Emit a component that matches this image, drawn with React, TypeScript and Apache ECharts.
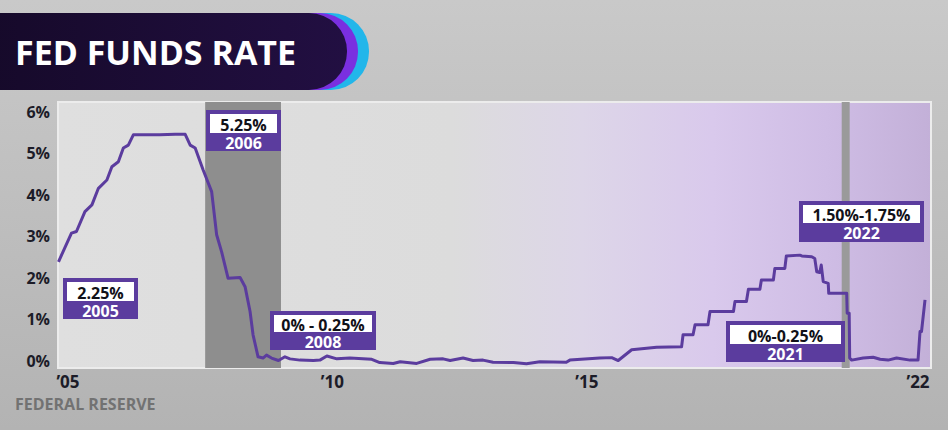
import React, { useEffect, useRef } from "react";
import * as echarts from "echarts";

// Fed funds rate (x = year position on the chart's axis, y = %)
const dates = [
  2005.01, 2005.27, 2005.37, 2005.54, 2005.68, 2005.81, 2005.98, 2006.08, 2006.21, 2006.31,
  2006.41, 2006.51, 2007.04, 2007.35, 2007.55, 2007.65, 2007.75, 2007.91, 2008.08, 2008.18,
  2008.28, 2008.41, 2008.65, 2008.75, 2008.85, 2008.91, 2009.01, 2009.11, 2009.18, 2009.28,
  2009.42, 2009.55, 2009.65, 2009.85, 2010.12, 2010.25, 2010.39, 2010.59, 2010.85, 2011.29,
  2011.45, 2011.72, 2011.86, 2012.19, 2012.46, 2012.72, 2012.86, 2013.12, 2013.32, 2013.52,
  2013.72, 2014.13, 2014.39, 2014.66, 2015.19, 2015.26, 2015.86, 2016.10, 2016.23, 2016.50,
  2016.60, 2017.00, 2017.50, 2017.53, 2017.73, 2017.77, 2018.03, 2018.07, 2018.54, 2018.57,
  2018.80, 2018.84, 2019.07, 2019.10, 2019.34, 2019.37, 2019.57, 2019.60, 2019.87, 2019.91,
  2020.11, 2020.17, 2020.21, 2020.27, 2020.30, 2020.34, 2020.44, 2020.45, 2020.81, 2020.82,
  2020.86, 2020.87, 2020.91, 2021.14, 2021.34, 2021.48, 2021.64, 2021.81, 2022.08, 2022.24,
  2022.28, 2022.31, 2022.38,
];
const rates = [
  2.39, 3.08, 3.12, 3.60, 3.76, 4.16, 4.36, 4.68, 4.80, 5.13,
  5.20, 5.45, 5.45, 5.46, 5.46, 5.20, 5.13, 4.60, 4.08, 3.04,
  2.63, 1.99, 2.01, 1.79, 1.19, 0.63, 0.10, 0.07, 0.14, 0.07,
  0.01, 0.10, 0.05, 0.02, 0.01, 0.02, 0.12, 0.05, 0.07, 0.04,
  -0.04, -0.06, -0.02, -0.06, 0.04, 0.05, 0.01, 0.07, 0.01, 0.02,
  -0.03, -0.04, -0.07, -0.02, -0.03, 0.02, 0.07, 0.08, 0.01, 0.27,
  0.28, 0.33, 0.34, 0.63, 0.63, 0.87, 0.87, 1.19, 1.19, 1.43,
  1.43, 1.73, 1.73, 1.95, 1.95, 2.23, 2.23, 2.53, 2.55, 2.53,
  2.51, 2.47, 2.15, 2.13, 2.31, 1.91, 1.87, 1.63, 1.63, 1.15,
  1.15, 0.07, 0.02, 0.07, 0.09, 0.04, 0.02, 0.07, 0.02, 0.02,
  0.71, 0.71, 1.47,
];

// Recessions (shaded bars)
const recessionStarts = [2007.95, 2020.71];
const recessionEnds = [2009.47, 2020.87];

// Axis tick values / labels
const yTicks = [0, 1, 2, 3, 4, 5, 6];
const xTicks = [2005.2, 2010.5, 2015.6, 2022.24];

// Annotation texts
const annotationRates = ["2.25%", "5.25%", "0% - 0.25%", "0%-0.25%", "1.50%-1.75%"];
const annotationYears = ["2005", "2006", "2008", "2021", "2022"];

// Annotation box layout (pixels): x, y, w, h, white-box height
const annotationBoxes = [
  [63, 278, 75, 41, 19],
  [206, 110, 75, 41, 19],
  [270, 311, 106, 39, 17],
  [726, 321, 119, 41, 19],
  [799, 201, 125, 41, 18],
];

const PURPLE = "#5b3c9e";
const FONT = "'Open Sans', 'Noto Sans', sans-serif";

function annotation(i: number) {
  const [x, y, w, h, wh] = annotationBoxes[i];
  const inset = 4;
  const c1 = y + inset + wh / 2 + 1;
  const c2 = y + inset + wh + (h - inset - wh) / 2 + 0.5;
  const lh = c2 - c1;
  return [
    { type: "rect", z: 100, shape: { x, y, width: w, height: h }, style: { fill: PURPLE } },
    {
      type: "rect",
      z: 101,
      shape: { x: x + inset, y: y + inset, width: w - 2 * inset, height: wh },
      style: { fill: "#ffffff" },
    },
    {
      type: "text",
      z: 102,
      x: x + w / 2,
      y: (c1 + c2) / 2,
      style: {
        text: `{v|${annotationRates[i]}}\n{y|${annotationYears[i]}}`,
        textAlign: "center",
        textVerticalAlign: "middle",
        font: `bold 16px ${FONT}`,
        rich: {
          v: {
            fill: "#111118",
            fontSize: 16,
            fontWeight: "bold",
            fontFamily: FONT,
            lineHeight: lh,
            align: "center",
          },
          y: {
            fill: "#ffffff",
            fontSize: 16,
            fontWeight: "bold",
            fontFamily: FONT,
            lineHeight: lh,
            align: "center",
          },
        },
      },
    },
  ];
}

export default function App() {
  const ref = useRef<HTMLDivElement>(null);
  useEffect(() => {
    if (!ref.current) return;
    const chart = echarts.init(ref.current, null, { renderer: "svg" });
    const lineData = dates.map((d, i) => [d, rates[i]]);
    const option: any = {
      animation: false,
      backgroundColor: "#bdbdbd",
      grid: {
        left: 58,
        right: 17,
        top: 102,
        bottom: 62,
        show: true,
        borderColor: "#ececec",
        borderWidth: 2,
        backgroundColor: new echarts.graphic.LinearGradient(0, 0, 1, 0, [
          { offset: 0, color: "#dfdfdf" },
          { offset: 0.45, color: "#dcdcdc" },
          { offset: 0.6, color: "#ddd6e8" },
          { offset: 0.75, color: "#d9c9ec" },
          { offset: 0.88, color: "#cfbde5" },
          { offset: 1, color: "#c3b0d8" },
        ]),
      },
      xAxis: {
        type: "value",
        min: 2005,
        max: 2022.5,
        axisLine: { show: false },
        axisTick: { show: false },
        splitLine: { show: false },
        axisLabel: {
          customValues: xTicks,
          formatter: (v: number) => "\u2019" + String(Math.floor(v)).slice(2),
          color: "#1c1c28",
          fontSize: 17,
          fontWeight: "bold",
          fontFamily: FONT,
          margin: 5,
        },
      },
      yAxis: {
        type: "value",
        min: -0.17,
        max: 6.24,
        axisLine: { show: false },
        axisTick: { show: false },
        splitLine: { show: false },
        axisLabel: {
          customValues: yTicks,
          formatter: (v: number) => `${v}%`,
          color: "#1c1c28",
          fontSize: 16,
          fontWeight: "bold",
          fontFamily: FONT,
          margin: 8,
        },
      },
      series: [
        {
          type: "line",
          data: lineData,
          showSymbol: false,
          symbol: "none",
          clip: false,
          z: 5,
          lineStyle: { color: PURPLE, width: 3, join: "round" },
          markArea: {
            silent: true,
            itemStyle: { color: "#8f8f8f", opacity: 1 },
            data: recessionStarts.map((s, i) => [
              { xAxis: s, itemStyle: { color: i === 0 ? "#8e8e8e" : "#9a9a9a" } },
              { xAxis: recessionEnds[i] },
            ]),
          },
        },
      ],
      graphic: [
        {
          type: "rect",
          z: -100,
          shape: { x: 0, y: 0, width: 948, height: 430 },
          style: {
            fill: new echarts.graphic.LinearGradient(0, 0, 0, 1, [
              { offset: 0, color: "#c9c9c9" },
              { offset: 0.5, color: "#bebebe" },
              { offset: 1, color: "#b3b3b3" },
            ]),
          },
        },
        {
          type: "rect",
          z: 50,
          shape: { x: -40, y: 13, width: 409, height: 77, r: 38 },
          style: { fill: "#22b6ea" },
        },
        {
          type: "rect",
          z: 51,
          shape: { x: -40, y: 13, width: 398, height: 77, r: 38 },
          style: { fill: "#7a2fe0" },
        },
        {
          type: "rect",
          z: 52,
          shape: { x: -40, y: 13, width: 387, height: 77, r: 38 },
          style: {
            fill: new echarts.graphic.LinearGradient(0, 0, 1, 0, [
              { offset: 0, color: "#150928" },
              { offset: 1, color: "#220f42" },
            ]),
          },
        },
        {
          type: "text",
          z: 53,
          x: 15,
          y: 52,
          style: {
            text: "FED FUNDS RATE",
            fill: "#ffffff",
            font: `bold 34px ${FONT}`,
            textAlign: "left",
            textVerticalAlign: "middle",
          },
        },
        {
          type: "text",
          z: 53,
          x: 15,
          y: 404,
          style: {
            text: "FEDERAL RESERVE",
            fill: "#727272",
            font: `bold 16px ${FONT}`,
            textAlign: "left",
            textVerticalAlign: "middle",
          },
        },
        ...annotationBoxes.flatMap((_, i) => annotation(i)),
      ],
    };
    chart.setOption(option);
    return () => chart.dispose();
  }, []);
  return (
    <div
      ref={ref}
      style={{ position: "absolute", left: 0, top: 0, width: 948, height: 430 }}
    />
  );
}
